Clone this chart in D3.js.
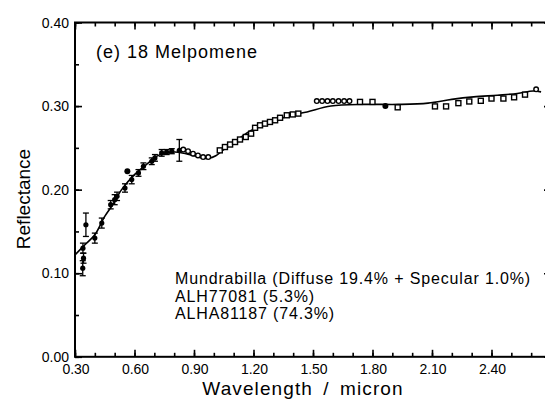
<!DOCTYPE html>
<html>
<head>
<meta charset="utf-8">
<script src="https://cdn.jsdelivr.net/npm/d3@7"></script>
<style>
  body { margin: 0; background: #fff; }
  svg { display: block; }
  text { font-family: "Liberation Sans", Arial, Helvetica, sans-serif; fill: #000; }
</style>
</head>
<body>
<svg id="chart" width="545" height="400"></svg>
<script>
// Mixing-model fit (solid line)
const modelWave = [0.30, 0.35, 0.40, 0.45, 0.49, 0.535, 0.60, 0.67, 0.72, 0.80, 0.85, 0.90, 0.94, 0.975, 1.01, 1.05, 1.12, 1.19, 1.29, 1.39, 1.47, 1.59, 1.76, 1.93, 2.08, 2.20, 2.31, 2.43, 2.53, 2.61, 2.65];
const modelRefl = [0.122, 0.134, 0.146, 0.168, 0.182, 0.200, 0.218, 0.232, 0.241, 0.245, 0.2435, 0.2405, 0.238, 0.2375, 0.2405, 0.248, 0.260, 0.271, 0.281, 0.289, 0.293, 0.300, 0.302, 0.302, 0.3035, 0.308, 0.311, 0.313, 0.315, 0.318, 0.317];

// Visible photometry with 1-sigma errors (filled circles)
const visWave = [0.339, 0.343, 0.340, 0.355, 0.400, 0.435, 0.480, 0.500, 0.512, 0.552, 0.586, 0.620, 0.645, 0.687, 0.703, 0.737, 0.762, 0.788, 0.826];
const visRefl = [0.106, 0.118, 0.130, 0.158, 0.142, 0.160, 0.182, 0.188, 0.192, 0.202, 0.212, 0.220, 0.228, 0.234, 0.238, 0.244, 0.245, 0.246, 0.247];
const visErr  = [0.009, 0.006, 0.006, 0.014, 0.006, 0.006, 0.005, 0.006, 0.005, 0.005, 0.005, 0.004, 0.004, 0.004, 0.004, 0.004, 0.003, 0.003, 0.013];

// Single outlying filled points
const outWave = [0.564, 1.865];
const outRefl = [0.222, 0.300];

// Near-IR spectrum, open circles
const circWave = [0.846, 0.870, 0.895, 0.920, 0.946, 0.972, 1.519, 1.546, 1.573, 1.600, 1.629, 1.657, 1.684, 2.625];
const circRefl = [0.248, 0.246, 0.243, 0.241, 0.239, 0.239, 0.306, 0.306, 0.306, 0.306, 0.306, 0.306, 0.306, 0.320];

// Near-IR spectrum, open squares
const sqWave = [1.030, 1.056, 1.082, 1.107, 1.132, 1.161, 1.188, 1.208, 1.233, 1.258, 1.283, 1.309, 1.334, 1.368, 1.398, 1.426, 1.737, 1.800, 1.927, 2.115, 2.171, 2.233, 2.288, 2.346, 2.400, 2.460, 2.514, 2.569];
const sqRefl = [0.247, 0.251, 0.254, 0.257, 0.260, 0.263, 0.267, 0.274, 0.277, 0.279, 0.281, 0.283, 0.286, 0.289, 0.290, 0.291, 0.305, 0.305, 0.2985, 0.2996, 0.2996, 0.3035, 0.3055, 0.3063, 0.309, 0.309, 0.3105, 0.3137];

// Axis ticks
const xMajor = [0.3, 0.6, 0.9, 1.2, 1.5, 1.8, 2.1, 2.4, 2.7];
const xTickLabels = ["0.30", "0.60", "0.90", "1.20", "1.50", "1.80", "2.10", "2.40", ""];
const xMinor = d3.range(3, 28).map(d => d / 10);
const yMajor = [0, 0.1, 0.2, 0.3, 0.4];
const yTickLabels = ["0.00", "0.10", "0.20", "0.30", "0.40"];
const yMinor = d3.range(0, 9).map(d => d / 20);

const titleText = "(e) 18 Melpomene";
const legendLines = [
  "Mundrabilla (Diffuse 19.4% + Specular 1.0%)",
  "ALH77081 (5.3%)",
  "ALHA81187 (74.3%)"
];

const svg = d3.select("#chart");
const x = d3.scaleLinear().domain([0.3, 2.7]).range([75, 551]);
const y = d3.scaleLinear().domain([0, 0.4]).range([356.8, 22.5]);

const g = svg.append("g");

// Frame and ticks (all ticks point inward)
function styleAxis(sel) {
  sel.select(".domain").remove();
  sel.selectAll("line").attr("stroke", "#000").attr("stroke-width", 1.6);
}
g.append("g").attr("transform", `translate(0,${y(0)})`)
  .call(d3.axisBottom(x).tickValues(xMinor).tickSize(-4).tickFormat(""))
  .call(styleAxis);
g.append("g").attr("transform", `translate(0,${y(0)})`)
  .call(d3.axisBottom(x).tickValues(xMajor).tickSize(-7).tickFormat(""))
  .call(styleAxis);
g.append("g").attr("transform", `translate(0,${y(0.4)})`)
  .call(d3.axisTop(x).tickValues(xMinor).tickSize(-4).tickFormat(""))
  .call(styleAxis);
g.append("g").attr("transform", `translate(0,${y(0.4)})`)
  .call(d3.axisTop(x).tickValues(xMajor).tickSize(-7).tickFormat(""))
  .call(styleAxis);
g.append("g").attr("transform", `translate(${x(0.3)},0)`)
  .call(d3.axisLeft(y).tickValues(yMinor).tickSize(-4).tickFormat(""))
  .call(styleAxis);
g.append("g").attr("transform", `translate(${x(0.3)},0)`)
  .call(d3.axisLeft(y).tickValues(yMajor).tickSize(-7).tickFormat(""))
  .call(styleAxis);
g.append("g").attr("transform", `translate(${x(2.7)},0)`)
  .call(d3.axisRight(y).tickValues(yMinor).tickSize(-4).tickFormat(""))
  .call(styleAxis);
g.append("g").attr("transform", `translate(${x(2.7)},0)`)
  .call(d3.axisRight(y).tickValues(yMajor).tickSize(-7).tickFormat(""))
  .call(styleAxis);

g.append("rect")
  .attr("x", x(0.3)).attr("y", y(0.4))
  .attr("width", x(2.7) - x(0.3)).attr("height", y(0) - y(0.4))
  .attr("fill", "none").attr("stroke", "#000").attr("stroke-width", 2);

// Tick labels
g.selectAll(".xl").data(xMajor).enter().append("text")
  .attr("x", d => x(d) + 1).attr("y", y(0) + 17)
  .attr("text-anchor", "middle").attr("font-size", 14)
  .text((d, i) => xTickLabels[i]);
g.selectAll(".yl").data(yMajor).enter().append("text")
  .attr("x", x(0.3) - 6).attr("y", d => y(d) + 5)
  .attr("text-anchor", "end").attr("font-size", 14)
  .text((d, i) => yTickLabels[i]);

// Axis titles
g.append("text").attr("x", 303).attr("y", 395)
  .attr("text-anchor", "middle").attr("font-size", 19)
  .attr("letter-spacing", 1.1).attr("word-spacing", 4)
  .text("Wavelength / micron");
g.append("text").attr("transform", "translate(30,199) rotate(-90)")
  .attr("text-anchor", "middle").attr("font-size", 19)
  .text("Reflectance");

// Panel title
g.append("text").attr("x", 96).attr("y", 58)
  .attr("font-size", 18).attr("letter-spacing", 1)
  .text(titleText);

// Legend text
g.selectAll(".leg").data(legendLines).enter().append("text")
  .attr("x", 175).attr("y", (d, i) => 284 + i * 17.5)
  .attr("font-size", 16).attr("letter-spacing", 0.85)
  .text(d => d);

// Model curve
const line = d3.line().curve(d3.curveCatmullRom.alpha(0.5))
  .x(d => x(d[0])).y(d => y(d[1]));
g.append("path")
  .datum(modelWave.map((w, i) => [w, modelRefl[i]]))
  .attr("d", line)
  .attr("fill", "none").attr("stroke", "#000").attr("stroke-width", 1.6);

// Visible photometry with error bars
const vis = visWave.map((w, i) => ({ w, r: visRefl[i], e: visErr[i] }));
const eb = g.append("g").attr("stroke", "#000").attr("stroke-width", 1.3);
eb.selectAll(".bar").data(vis).enter().append("line")
  .attr("x1", d => x(d.w)).attr("x2", d => x(d.w))
  .attr("y1", d => y(d.r - d.e)).attr("y2", d => y(d.r + d.e));
eb.selectAll(".capt").data(vis).enter().append("line")
  .attr("x1", d => x(d.w) - 3).attr("x2", d => x(d.w) + 3)
  .attr("y1", d => y(d.r + d.e)).attr("y2", d => y(d.r + d.e));
eb.selectAll(".capb").data(vis).enter().append("line")
  .attr("x1", d => x(d.w) - 3).attr("x2", d => x(d.w) + 3)
  .attr("y1", d => y(d.r - d.e)).attr("y2", d => y(d.r - d.e));
g.selectAll(".vis").data(vis).enter().append("circle")
  .attr("cx", d => x(d.w)).attr("cy", d => y(d.r)).attr("r", 2.6).attr("fill", "#000");

g.selectAll(".out").data(outWave).enter().append("circle")
  .attr("cx", d => x(d)).attr("cy", (d, i) => y(outRefl[i])).attr("r", 3).attr("fill", "#000");

// Open circles
g.selectAll(".oc").data(circWave).enter().append("circle")
  .attr("cx", d => x(d)).attr("cy", (d, i) => y(circRefl[i])).attr("r", 2.3)
  .attr("fill", "#fff").attr("stroke", "#000").attr("stroke-width", 1.4);

// Open squares
g.selectAll(".sq").data(sqWave).enter().append("rect")
  .attr("x", d => x(d) - 2.5).attr("y", (d, i) => y(sqRefl[i]) - 2.5)
  .attr("width", 5).attr("height", 5)
  .attr("fill", "#fff").attr("stroke", "#000").attr("stroke-width", 1.4);
</script>
</body>
</html>
